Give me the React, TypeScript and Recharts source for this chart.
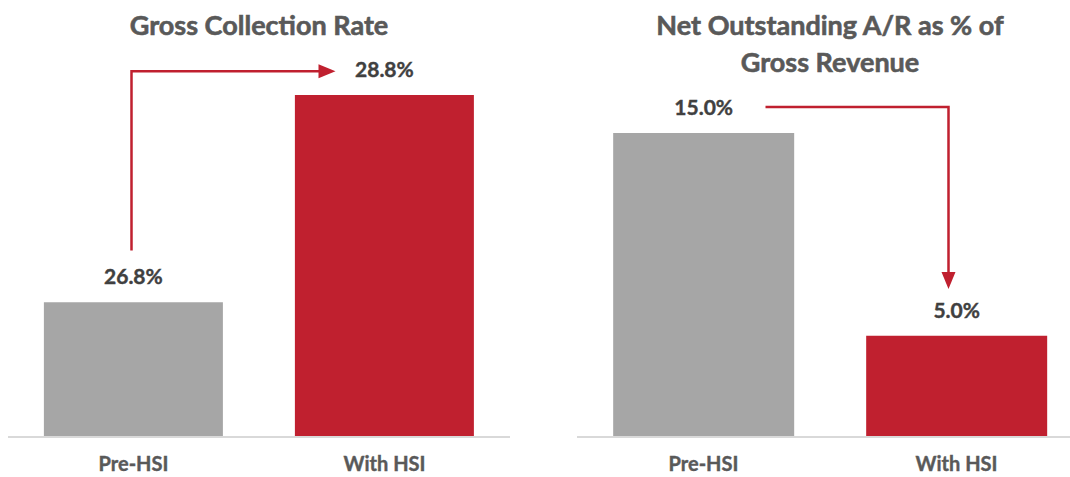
import React from 'react';
import { BarChart, Bar, XAxis, YAxis, Cell, LabelList, ReferenceLine } from 'recharts';

const categories = ['Pre-HSI', 'With HSI'];
const collectionRate = [26.8, 28.8];
const netOutstanding = [15.0, 5.0];
const barColors = ['#A6A6A6', '#C0202F'];

// arrow annotation levels (in axis units)
const collectionArrow = [27.3, 29.03];
const outstandingArrow = [16.28, 7.3];

const RED = '#C0202F';
const FONT = 'Lato, "Open Sans", sans-serif';

const collectionRows = categories.map((c, i) => ({ name: c, value: collectionRate[i] }));
const outstandingRows = categories.map((c, i) => ({ name: c, value: netOutstanding[i] }));

const fmt = (v: any) => `${Number(v).toFixed(1)}%`;

function UpRightArrow(p: any) {
  const { x1, y1, x2, y2 } = p;
  const sx = x1 - 2;
  const tip = x2 - 49;
  return (
    <g>
      <path d={`M${sx},${y1} V${y2} H${tip - 14}`} fill="none" stroke={RED} strokeWidth={2.5} />
      <polygon points={`${tip},${y2} ${tip - 17},${y2 - 7} ${tip - 17},${y2 + 7}`} fill={RED} />
    </g>
  );
}

function RightDownArrow(p: any) {
  const { x1, y1, x2, y2 } = p;
  const sx = x1 + 62;
  const cx = x2 - 8;
  return (
    <g>
      <path d={`M${sx},${y1} H${cx} V${y2 - 14}`} fill="none" stroke={RED} strokeWidth={2.5} />
      <polygon points={`${cx},${y2} ${cx - 7},${y2 - 17} ${cx + 7},${y2 - 17}`} fill={RED} />
    </g>
  );
}

const titleStyle: React.CSSProperties = {
  position: 'absolute',
  textAlign: 'center',
  fontFamily: FONT,
  fontWeight: 700,
  fontSize: 27,
  color: '#595959',
  lineHeight: '37px',
  WebkitTextStroke: '0.6px #595959',
};

function Panel({ rows, domain, arrow, Shape }: any) {
  const isLeft = rows === collectionRows;
  return (
    <BarChart
      width={isLeft ? 530 : 506}
      height={477}
      data={rows}
      margin={{ top: 64, right: isLeft ? 20 : 0, bottom: 0, left: isLeft ? 8 : 0 }}
      barCategoryGap="14.3%"
    >
      <XAxis
        dataKey="name"
        height={40}
        tickLine={false}
        axisLine={{ stroke: '#D9D9D9', strokeWidth: 2 }}
        tickMargin={14}
        tick={{ fill: '#595959', stroke: '#595959', strokeWidth: 0.4, fontSize: 20, fontWeight: 700, fontFamily: FONT }}
      />
      <YAxis hide domain={domain} allowDataOverflow />
      <Bar dataKey="value" isAnimationActive={false}>
        {rows.map((r: any, i: number) => (
          <Cell key={r.name} fill={barColors[i]} />
        ))}
        <LabelList
          dataKey="value"
          position="top"
          offset={18}
          formatter={fmt}
          style={{ fill: '#404040', stroke: '#404040', strokeWidth: 0.4, fontSize: 21, fontWeight: 700, fontFamily: FONT }}
        />
      </Bar>
      <ReferenceLine
        ifOverflow="visible"
        segment={[
          { x: categories[0], y: arrow[0] },
          { x: categories[1], y: arrow[1] },
        ]}
        shape={Shape}
      />
    </BarChart>
  );
}

export default function App() {
  return (
    <div
      style={{
        position: 'fixed',
        left: 0,
        top: 0,
        width: 1070,
        height: 477,
        overflow: 'hidden',
        background: '#fff',
      }}
    >
      <div style={{ position: 'absolute', left: 0, top: 0 }}>
        <Panel rows={collectionRows} domain={[25.5, 29.1]} arrow={collectionArrow} Shape={UpRightArrow} />
      </div>
      <div style={{ position: 'absolute', left: 577, top: 0 }}>
        <Panel rows={outstandingRows} domain={[0, 18.4]} arrow={outstandingArrow} Shape={RightDownArrow} />
      </div>
      <div style={{ ...titleStyle, left: 59, width: 400, top: 6 }}>Gross Collection Rate</div>
      <div style={{ ...titleStyle, left: 580, width: 500, top: 6 }}>
        Net Outstanding A/R as % of
        <br />
        Gross Revenue
      </div>
    </div>
  );
}
